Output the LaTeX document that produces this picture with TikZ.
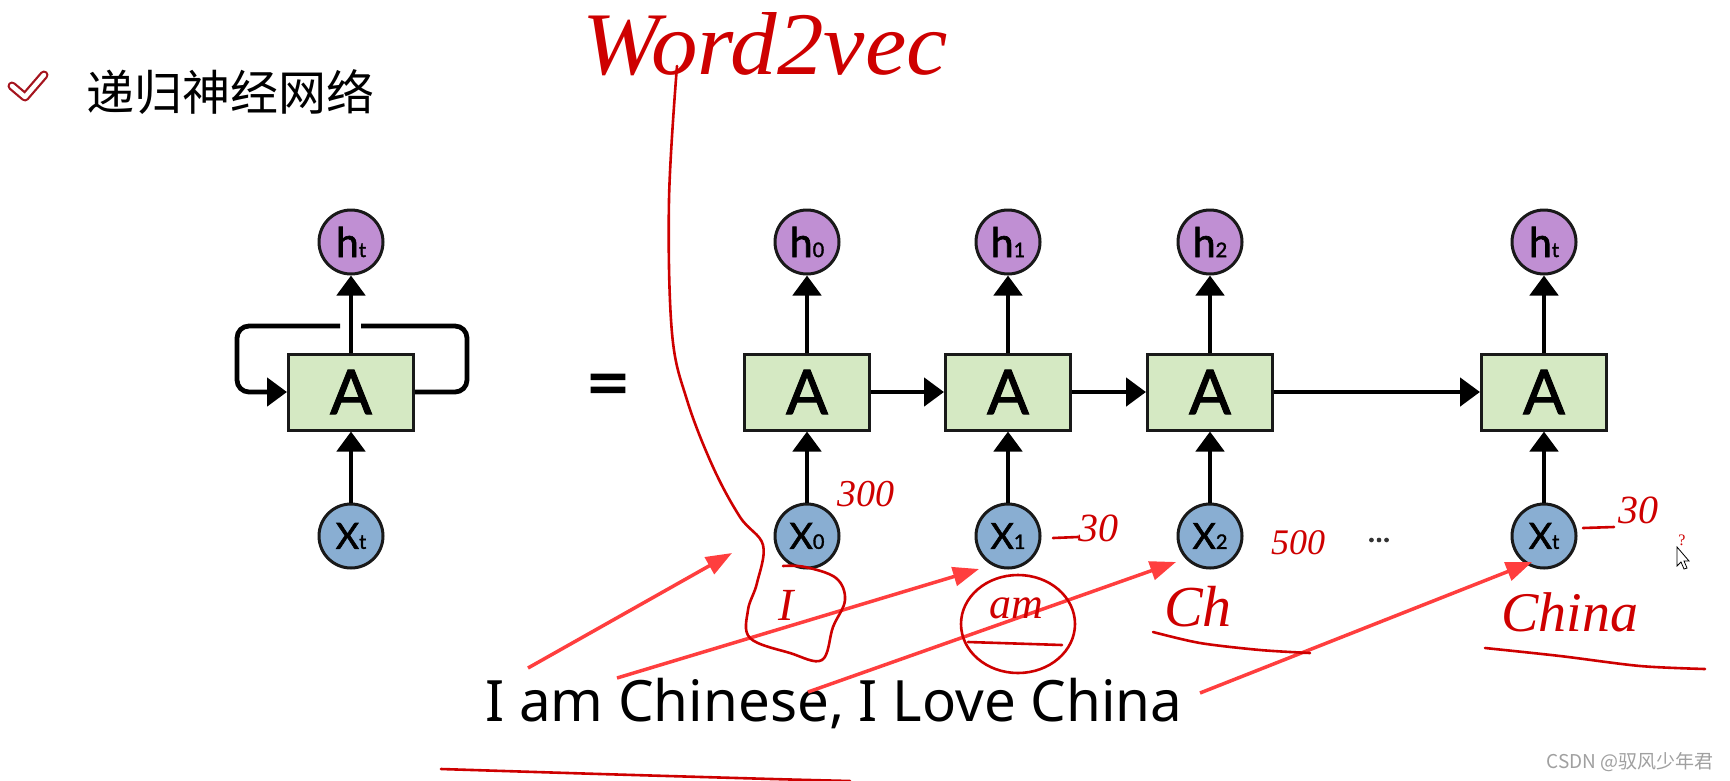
\documentclass[tikz,border=0pt]{standalone}
\usepackage{fontspec}
\usepackage{graphicx}
\usetikzlibrary{arrows.meta,calc}
\setmainfont{Lato}
\newfontfamily\diag{Lato}[FakeBold=1.6]
\newfontfamily\cjk{Noto Sans CJK SC}
\newfontfamily\sentfont{Noto Sans}
\newfontfamily\handfont{Liberation Serif}
\definecolor{boxg}{RGB}{213,233,195}
\definecolor{hpur}{RGB}{192,143,211}
\definecolor{xblu}{RGB}{137,174,210}
\definecolor{edgec}{RGB}{25,25,25}
\definecolor{inkred}{RGB}{206,0,0}
\definecolor{arrred}{RGB}{255,62,62}
\definecolor{chkred}{RGB}{165,20,30}
\definecolor{wmgray}{RGB}{160,160,160}
\newcommand{\sbx}[1]{{\fontsize{20}{20}\selectfont #1}}
\begin{document}
\begin{tikzpicture}[x=1pt,y=-1pt,
  cell/.style={draw=edgec, line width=3pt, fill=boxg, minimum width=125pt, minimum height=76pt, inner sep=0pt, font=\diag\fontsize{62}{62}\selectfont},
  hnode/.style={circle, draw=edgec, line width=3pt, fill=hpur, minimum size=64pt, inner sep=0pt, font=\diag\fontsize{41}{41}\selectfont},
  xnode/.style={circle, draw=edgec, line width=3pt, fill=xblu, minimum size=64pt, inner sep=0pt, font=\diag\fontsize{36}{36}\selectfont},
  flow/.style={draw=black, line width=4.8pt, -{Triangle[length=20pt,width=28pt]}},
  wire/.style={draw=black, line width=4.8pt},
  redarr/.style={draw=arrred, line width=3.5pt, -{Triangle[length=26pt,width=19pt]}},
  ink/.style={draw=inkred, line width=2.6pt, line cap=round, line join=round},
  inktext/.style={text=inkred, inner sep=0pt},
]
\useasboundingbox (0,0) rectangle (1730,780);
\fill[white] (0,0) rectangle (1730,780);

% title
\draw[chkred, line width=9pt, line join=round, line cap=round] (12,86) -- (25,97) -- (44,75);
\draw[white, line width=4.5pt, line join=round, line cap=round] (12,86) -- (25,97) -- (44,75);
\node[anchor=west, inner sep=0pt, font=\cjk\fontsize{48}{48}\selectfont] (title) at (86,92) {递归神经网络};

% folded RNN
\node[cell] (L) at (351,392) {A};
\node[hnode] (Lh) at (351,242) {h\sbx{t}};
\node[xnode] (Lx) at (351,536) {X\sbx{t}};
\draw[flow] (L.north) -- (Lh.south);
\draw[flow] (Lx.north) -- (L.south);
\coordinate (gr) at (361,326);
\coordinate (gl) at (340,326);
\coordinate (lr) at (467,326);
\coordinate (ll) at (237,326);
\draw[wire, rounded corners=12pt] (L.east) -| (lr) -- (gr);
\draw[flow, rounded corners=12pt] (gl) -- (ll) |- (L.west);

\node[inner sep=0pt, font=\diag\fontsize{78}{78}\selectfont] (eq) at (608,392) {=};

% unrolled RNN
\node[cell] (A0) at (807,392) {A};
\node[cell] (A1) at (1008,392) {A};
\node[cell] (A2) at (1210,392) {A};
\node[cell] (At) at (1544,392) {A};
\node[hnode] (h0) at (807,242) {h\sbx{0}};
\node[hnode] (h1) at (1008,242) {h\sbx{1}};
\node[hnode] (h2) at (1210,242) {h\sbx{2}};
\node[hnode] (ht) at (1544,242) {h\sbx{t}};
\node[xnode] (x0) at (807,536) {X\sbx{0}};
\node[xnode] (x1) at (1008,536) {X\sbx{1}};
\node[xnode] (x2) at (1210,536) {X\sbx{2}};
\node[xnode] (xt) at (1544,536) {X\sbx{t}};
\foreach \n in {0,1,2,t}{
  \draw[flow] (A\n.north) -- (h\n.south);
  \draw[flow] (x\n.north) -- (A\n.south);
}
\draw[flow] (A0.east) -- (A1.west);
\draw[flow] (A1.east) -- (A2.west);
\draw[flow] (A2.east) -- (At.west);
\node[inner sep=0pt, text=black!80, font=\diag\fontsize{32}{32}\selectfont] (dots) at (1379,540) {...};

% sentence
\node[anchor=base west, inner sep=0pt] (sent) at (485,721) {\resizebox{697pt}{\height}{\sentfont\fontsize{57}{57}\selectfont I am Chinese, I Love China}};

% red arrows
\coordinate (s1) at (528,668);
\coordinate (s2) at (617,678);
\coordinate (s3) at (808,692);
\coordinate (s4) at (1200,693);
\draw[redarr] (s1) -- ($(x0)+(-75,17)$);
\draw[redarr] (s2) -- ($(x1)+(-29,33)$);
\draw[redarr] (s3) -- ($(x2)+(-34,26)$);
\draw[redarr] (s4) -- ($(xt)+(-12,26)$);

% handwriting
\node[inktext] (w2v) at (765,44) {\resizebox{365pt}{62pt}{\handfont\itshape Word2vec}};
\draw[ink] plot[smooth, tension=0.6] coordinates {(677,66) (669,200) (672,333) (687,400) (713,467) (740,517) (763,545) (757,583) (748,610) (750,638) (790,653) (822,660) (833,627) (845,600) (836,578) (805,567) (783,566)};
\node[inktext, font=\handfont\itshape\fontsize{46}{46}\selectfont] (wI) at (786,605) {I};
\node[inktext, font=\handfont\itshape\fontsize{38}{38}\selectfont] (n0) at (866,494) {300};
\draw[ink] ($(x1)+(45,2)$) -- ($(x1)+(70,1)$);
\node[inktext, font=\handfont\itshape\fontsize{40}{40}\selectfont] (n1) at (1098,528) {30};
\node[inktext, font=\handfont\itshape\fontsize{36}{36}\selectfont] (n2) at (1298,543) {500};
\draw[ink] ($(xt)+(39,-8)$) -- ($(xt)+(70,-9)$);
\node[inktext, font=\handfont\itshape\fontsize{40}{40}\selectfont] (nt) at (1638,510) {30};
\node[inktext, font=\handfont\fontsize{16}{16}\selectfont] (q) at (1682,540) {?};
\draw[black, fill=white, line width=0.8pt] (1677,547) -- (1677,566) -- (1681,562) -- (1684,569) -- (1687,568) -- (1684,561) -- (1689,561) -- cycle;

\node[inktext, font=\handfont\itshape\fontsize{44}{44}\selectfont] (wam) at (1016,608) {am};
\draw[ink] (1018,624) ellipse [x radius=57pt, y radius=49pt];
\draw[ink] (968,642) -- (1062,645);

\node[inktext, font=\handfont\itshape\fontsize{58}{58}\selectfont] (wch) at (1198,607) {Ch};
\draw[ink] plot[smooth] coordinates {(1153,632) (1200,643) (1260,650) (1310,653)};

\node[inktext, font=\handfont\itshape\fontsize{56}{56}\selectfont] (wchina) at (1570,612) {China};
\draw[ink] plot[smooth] coordinates {(1485,648) (1560,656) (1640,666) (1705,669)};

\draw[ink] plot[smooth] coordinates {(441,769) (600,774) (772,779) (850,781)};

% watermark
\node[anchor=east, inner sep=0pt, text=wmgray, font=\cjk\fontsize{19}{19}\selectfont] (wm) at (1714,762) {CSDN @驭风少年君};
\end{tikzpicture}
\end{document}
